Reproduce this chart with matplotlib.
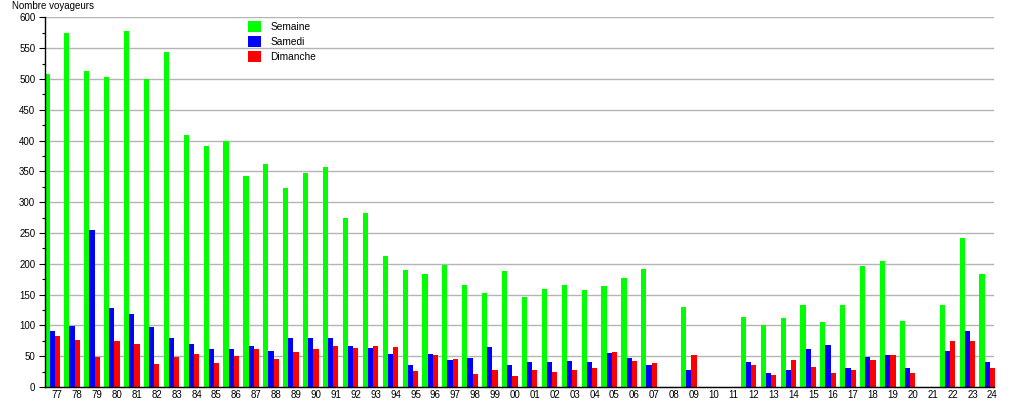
import numpy as np
import matplotlib
matplotlib.use("Agg")
import matplotlib.pyplot as plt
from matplotlib.ticker import MultipleLocator

plt.rcParams['font.family'] = ['Liberation Sans', 'DejaVu Sans']

years = ['77', '78', '79', '80', '81', '82', '83', '84', '85', '86', '87', '88',
         '89', '90', '91', '92', '93', '94', '95', '96', '97', '98', '99', '00',
         '01', '02', '03', '04', '05', '06', '07', '08', '09', '10', '11', '12',
         '13', '14', '15', '16', '17', '18', '19', '20', '21', '22', '23', '24']

semaine = [508, 575, 513, 503, 578, 500, 544, 409, 391, 399, 343, 362,
           323, 347, 357, 274, 282, 213, 190, 183, 198, 166, 152, 188,
           146, 159, 166, 157, 164, 177, 192, 0, 130, 0, 0, 114,
           101, 112, 133, 105, 133, 196, 205, 107, 0, 133, 242, 183]

samedi = [91, 99, 254, 129, 118, 98, 80, 69, 61, 62, 67, 59,
          80, 79, 79, 67, 63, 54, 36, 54, 44, 47, 65, 36,
          41, 41, 42, 41, 55, 47, 36, 0, 28, 0, 0, 41,
          23, 28, 62, 68, 31, 49, 52, 31, 0, 59, 91, 41]

dimanche = [82, 77, 48, 75, 69, 38, 48, 53, 39, 51, 61, 46,
            56, 61, 67, 63, 66, 65, 26, 52, 45, 21, 28, 18,
            28, 24, 28, 31, 57, 42, 39, 0, 52, 0, 0, 36,
            19, 44, 33, 23, 28, 44, 52, 23, 0, 75, 75, 31]

fig = plt.figure(figsize=(10.15, 4.0), dpi=100)
ax = fig.add_axes([45 / 1015, 13 / 400, 949 / 1015, 369.7 / 400])

x = np.arange(len(years))
w = 0.26
ax.bar(x - 2 * w, semaine, w, color='#00ff00', label='Semaine', zorder=3)
ax.bar(x - w, samedi, w, color='#0000ff', label='Samedi', zorder=3)
ax.bar(x, dimanche, w, color='#ff0000', label='Dimanche', zorder=3, clip_on=False)

ax.set_xlim(-0.62, 47.08)
ax.set_ylim(0, 600)
ax.yaxis.set_major_locator(MultipleLocator(50))
ax.yaxis.set_minor_locator(MultipleLocator(25))
ax.set_xticks(x)
ax.set_xticklabels(years)

ax.grid(axis='y', color='#b4b4b4', linewidth=1.0, zorder=0)
for s in ['top', 'right']:
    ax.spines[s].set_visible(False)
for s in ['left', 'bottom']:
    ax.spines[s].set_color('black')
    ax.spines[s].set_linewidth(1.0)
    ax.spines[s].set_zorder(4)

ax.tick_params(axis='y', which='major', length=4, width=0.8, pad=3, labelsize=7)
ax.tick_params(axis='y', which='minor', length=2, width=0.8)
ax.tick_params(axis='x', length=0, pad=2, labelsize=7)

fig.text(12 / 1015, 1 - 1 / 400, 'Nombre voyageurs', fontsize=7, ha='left', va='top')

ax.legend(loc='upper left', bbox_to_anchor=(0.214, 0.99), frameon=False,
          fontsize=7.3, handlelength=1.3, handleheight=1.3, handletextpad=0.9,
          labelspacing=0.4, borderpad=0, borderaxespad=0)

fig.savefig('out.png', dpi=100)
